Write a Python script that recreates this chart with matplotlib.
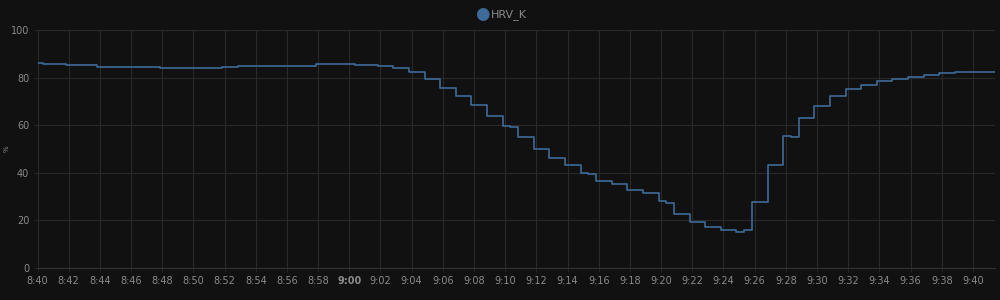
import datetime as dt
import matplotlib
matplotlib.use("Agg")
import matplotlib.pyplot as plt
import matplotlib.dates as mdates

# change points of the series (value holds until the next time)
times = ["8:40:00", "8:40:20", "8:41:50", "8:43:50", "8:47:50", "8:49:50",
         "8:51:50", "8:52:50", "8:57:50", "9:00:20", "9:01:50", "9:02:50",
         "9:03:50", "9:04:50", "9:05:20", "9:05:50", "9:06:50", "9:07:50",
         "9:08:50", "9:09:50", "9:10:20", "9:10:50", "9:11:50", "9:12:50",
         "9:13:50", "9:14:50", "9:15:20", "9:15:50", "9:16:50", "9:17:50",
         "9:18:50", "9:19:50", "9:20:20", "9:20:50", "9:21:50", "9:22:50",
         "9:23:50", "9:24:50", "9:25:20", "9:25:50", "9:26:50", "9:27:50",
         "9:28:20", "9:28:50", "9:29:50", "9:30:50", "9:31:50", "9:32:50",
         "9:33:50", "9:34:50", "9:35:50", "9:36:50", "9:37:50", "9:38:50",
         "9:40:20", "9:40:50", "9:41:25"]
hrv_k = [86.1, 85.9, 85.1, 84.6, 84.0, 83.9,
         84.4, 85.0, 85.6, 85.3, 84.9, 84.2,
         82.2, 79.3, 79.6, 75.6, 72.4, 68.4,
         63.9, 59.6, 59.2, 55.0, 49.9, 46.0,
         43.2, 39.7, 39.4, 36.6, 35.1, 32.7,
         31.6, 28.2, 27.1, 22.5, 19.5, 17.1,
         16.1, 15.0, 15.8, 27.5, 43.3, 55.3,
         55.0, 63.0, 68.0, 72.2, 75.0, 76.7,
         78.5, 79.5, 80.2, 81.2, 81.9, 82.5,
         82.2, 82.5, 82.5]
y_ticks = [0, 20, 40, 60, 80, 100]

bg = "#111111"
grid_c = "#292929"
text_c = "#8a8a8a"
line_c = "#3d6a97"

day = dt.date(2020, 1, 1)
def to_dt(s):
    h, m, sec = map(int, s.split(":"))
    return dt.datetime.combine(day, dt.time(h, m, sec))

x = [to_dt(s) for s in times]

fig = plt.figure(figsize=(10, 3), dpi=100, facecolor=bg)
ax = fig.add_axes([0.0375, 0.107, 0.9575, 0.793], facecolor=bg)

ax.step(x, hrv_k, where="post", color=line_c, linewidth=1.2)

ax.set_xlim(to_dt("8:40:00"), to_dt("9:41:25"))
ax.set_ylim(0, 100)
ax.set_yticks(y_ticks)
ax.xaxis.set_major_locator(mdates.MinuteLocator(byminute=range(0, 60, 2)))

def fmt(v, pos):
    d = mdates.num2date(v)
    return "%d:%02d" % (d.hour, d.minute)
ax.xaxis.set_major_formatter(plt.FuncFormatter(fmt))

ax.tick_params(colors=text_c, labelsize=7, length=3, width=0.6, pad=3)
ax.tick_params(axis="x", color=grid_c)
ax.tick_params(axis="y", color=grid_c)
fig.canvas.draw()
for lbl in ax.get_xticklabels():
    if lbl.get_text() == "9:00":
        lbl.set_fontweight("bold")

ax.grid(True, color=grid_c, linewidth=0.8)
ax.set_axisbelow(True)
for sp in ["top", "right", "left"]:
    ax.spines[sp].set_visible(False)
ax.spines["bottom"].set_color("#333333")

# unit label on the far left
fig.text(0.007, 0.505, "%", color=text_c, fontsize=5, rotation=90,
         ha="center", va="center")

# legend above the plot
fig.text(0.482, 0.953, "\u25cf", color=line_c, fontsize=12, ha="center", va="center")
fig.text(0.491, 0.953, "HRV_K", color=text_c, fontsize=8, ha="left", va="center")

fig.savefig("out.png", facecolor=bg)
